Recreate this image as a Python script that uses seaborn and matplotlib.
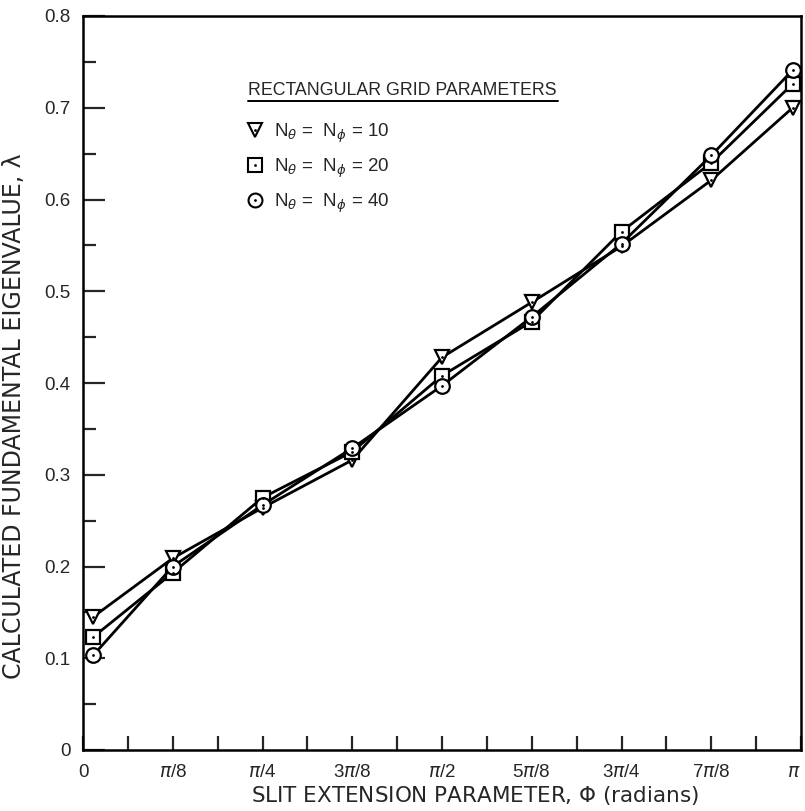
import numpy as np
import pandas as pd
import matplotlib
matplotlib.use("Agg")
import matplotlib.pyplot as plt
import seaborn as sns
from matplotlib.lines import Line2D
from matplotlib.ticker import FixedLocator, MultipleLocator

# ---- data ----
phi = [0.044, 0.3927, 0.7854, 1.1781, 1.5708, 1.9635, 2.3562, 2.7489, 3.105]
lam_n10 = [0.145, 0.209, 0.264, 0.316, 0.428, 0.488, 0.549, 0.621, 0.700]
lam_n20 = [0.123, 0.193, 0.275, 0.325, 0.408, 0.467, 0.565, 0.640, 0.726]
lam_n40 = [0.103, 0.200, 0.267, 0.329, 0.397, 0.472, 0.552, 0.648, 0.741]
grid_sizes = ["10", "20", "40"]
series_markers = ["v", "s", "o"]

xtick_pos = [0, np.pi / 8, np.pi / 4, 3 * np.pi / 8, np.pi / 2,
             5 * np.pi / 8, 3 * np.pi / 4, 7 * np.pi / 8, np.pi]
xtick_labels = ["0", r"$\pi$/8", r"$\pi$/4", r"3$\pi$/8", r"$\pi$/2",
                r"5$\pi$/8", r"3$\pi$/4", r"7$\pi$/8", r"$\pi$"]
ytick_pos = [0, 0.1, 0.2, 0.3, 0.4, 0.5, 0.6, 0.7, 0.8]
ytick_labels = ["0", "0.1", "0.2", "0.3", "0.4", "0.5", "0.6", "0.7", "0.8"]

legend_title = "RECTANGULAR GRID PARAMETERS"
legend_labels = [r"N$_\theta$ =  N$_\phi$ = " + n for n in grid_sizes]
xlabel = r"SLIT EXTENSION PARAMETER, $\Phi$ (radians)"
ylabel = "CALCULATED FUNDAMENTAL EIGENVALUE, λ"

# ---- long table ----
frames = []
for n, vals in zip(grid_sizes, [lam_n10, lam_n20, lam_n40]):
    frames.append(pd.DataFrame({"phi": phi, "lam": vals, "N": n}))
df = pd.concat(frames, ignore_index=True)

sns.set_style("ticks")
plt.rcParams["font.family"] = ["Liberation Sans", "DejaVu Sans"]
plt.rcParams["mathtext.fontset"] = "dejavusans"

fig = plt.figure(figsize=(8.05, 8.11), dpi=100)
ax = fig.add_axes([83 / 805, 1 - 750 / 811, (801 - 83) / 805, (750 - 16) / 811])

sns.lineplot(data=df, x="phi", y="lam", hue="N", style="N",
             palette=["black"] * 3, markers=series_markers, dashes=False,
             linewidth=2.0, markersize=10.5, markerfacecolor="white",
             markeredgecolor="black", markeredgewidth=1.6,
             legend=False, ax=ax, zorder=3)
sns.scatterplot(data=df, x="phi", y="lam", color="black", s=4,
                marker="o", linewidth=0, legend=False, ax=ax, zorder=5)

ax.set_xlim(0, np.pi)
ax.set_ylim(0, 0.8)
ax.xaxis.set_major_locator(FixedLocator(xtick_pos))
ax.set_xticklabels(xtick_labels)
ax.xaxis.set_minor_locator(MultipleLocator(np.pi / 16))
ax.yaxis.set_major_locator(FixedLocator(ytick_pos))
ax.set_yticklabels(ytick_labels)
ax.yaxis.set_minor_locator(MultipleLocator(0.05))

ax.tick_params(axis="x", which="both", direction="in", length=10,
               width=1.6, labelsize=13.5, pad=10, top=False)
ax.tick_params(axis="y", which="major", direction="in", length=16,
               width=1.6, labelsize=13.5, pad=9, right=False)
ax.tick_params(axis="y", which="minor", direction="in", length=9.5,
               width=1.6, right=False)
# keep the last x tick label (pi) inside the figure
ax.get_xticklabels()[-1].set_horizontalalignment("right")

for sp in ax.spines.values():
    sp.set_visible(True)
    sp.set_linewidth(1.8)
    sp.set_color("black")

ax.set_xlabel(xlabel, fontsize=15.5, family=["DejaVu Sans"])
ax.set_ylabel(ylabel, fontsize=17, family=["DejaVu Sans"])
ax.xaxis.set_label_coords(0.546, -0.047)
ax.yaxis.set_label_coords(-0.079, 0.455)

# legend title with underline
ax.text(0.230, 0.899, legend_title, transform=ax.transAxes, fontsize=12.8,
        ha="left", va="center")
ax.plot([0.230, 0.662], [0.884, 0.884], transform=ax.transAxes,
        color="black", lw=1.4, clip_on=False)

handles = []
for m in series_markers:
    h_open = Line2D([], [], marker=m, ls="none", ms=10, mfc="white",
                    mec="black", mew=1.5)
    h_dot = Line2D([], [], marker="o", ls="none", ms=2, mfc="black",
                   mec="black", mew=0)
    handles.append((h_open, h_dot))
ax.legend(handles, legend_labels, loc="upper left",
          bbox_to_anchor=(0.227, 0.856), frameon=False, fontsize=13.5,
          handlelength=1.0, handletextpad=0.5, labelspacing=0.6,
          borderpad=0, borderaxespad=0)

fig.savefig("out.png", dpi=100, facecolor="white")
